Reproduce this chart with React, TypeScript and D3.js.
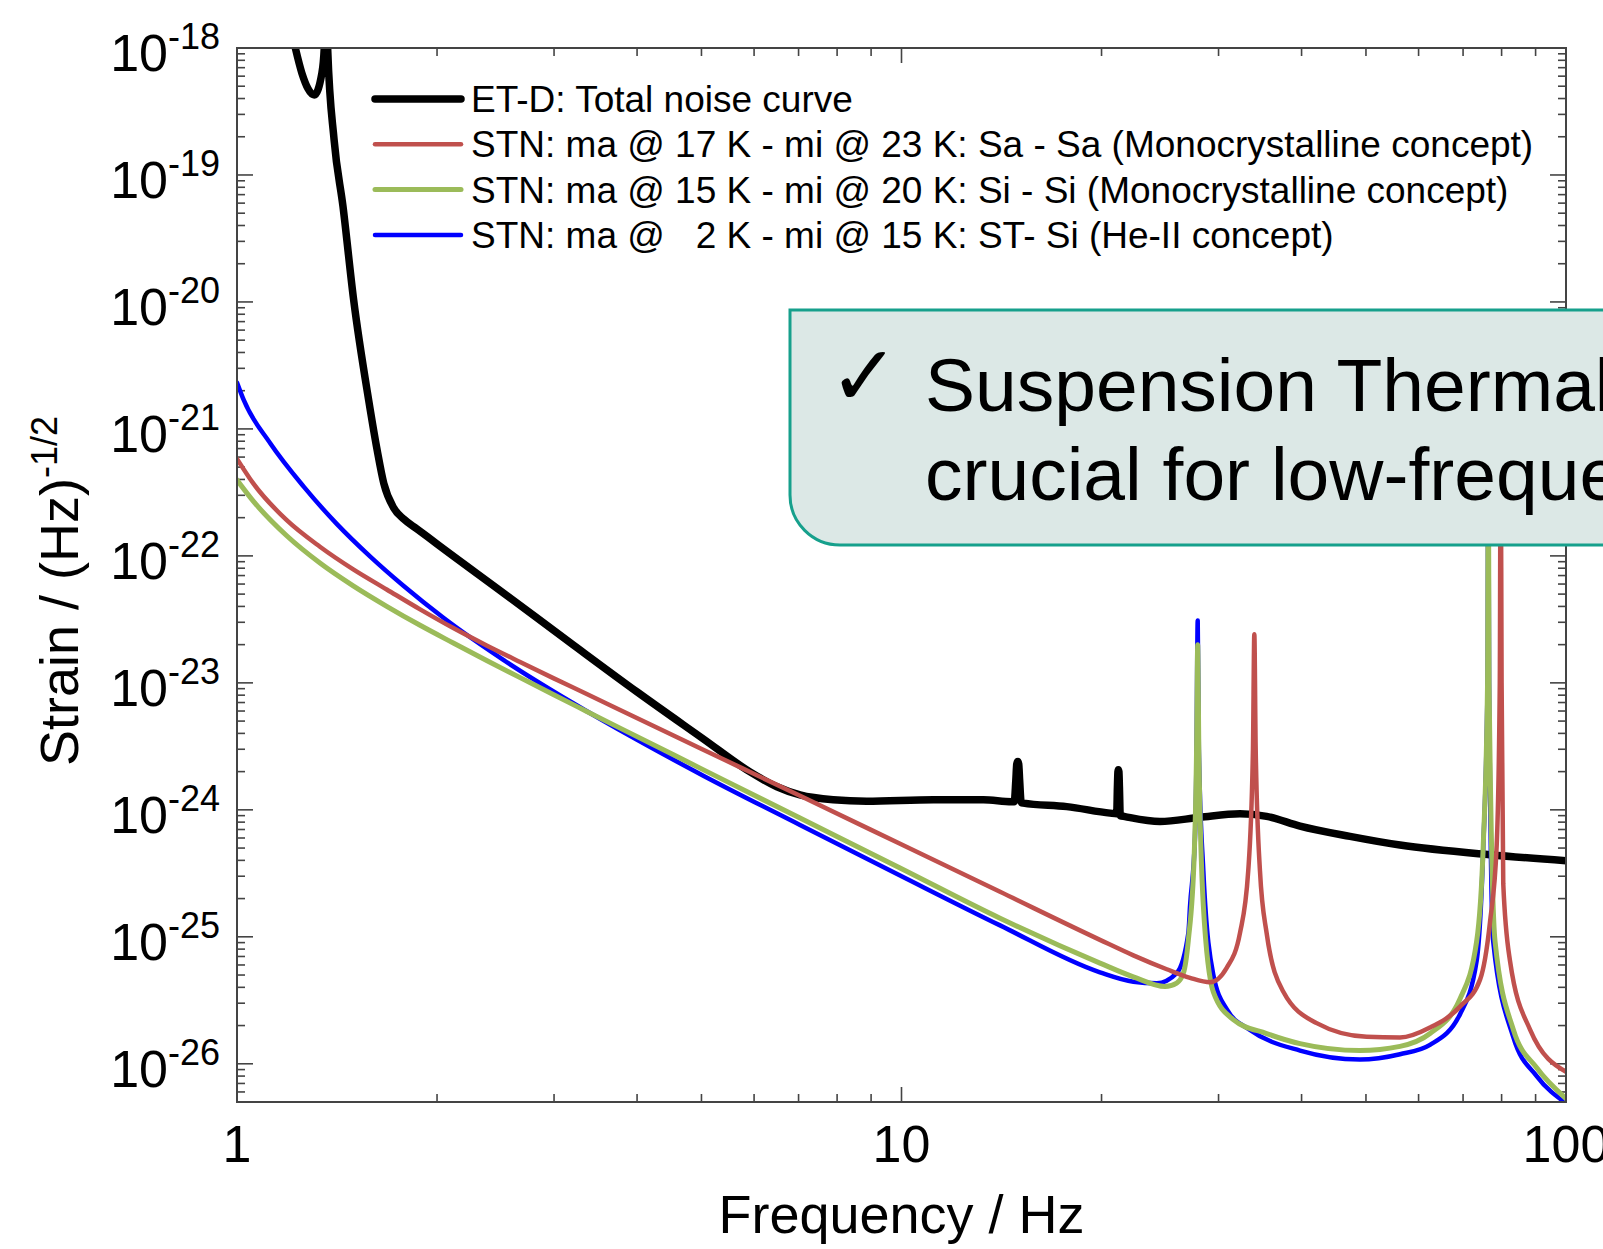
import React from "react";
import * as d3 from "d3";

// ET-D total noise curve, [frequency Hz, strain]
const etdTotal: [number, number][] = [
  [1.19, 2.0e-18], [1.224, 1.0e-18], [1.252, 6.35e-19], [1.307, 4.27e-19], [1.342, 6.35e-19],
  [1.353, 1.0e-18], [1.36, 3.0e-18], [1.369, 1.0e-18], [1.4, 1.89e-19], [1.444, 5.62e-20],
  [1.498, 1.04e-20], [1.578, 1.69e-21], [1.625, 6.84e-22], [1.663, 3.73e-22], [1.721, 2.39e-22],
  [1.782, 1.95e-22], [1.866, 1.63e-22], [2.0, 1.24e-22], [2.52, 5.08e-23], [3.174, 2.07e-23],
  [4.0, 8.49e-24], [5.04, 3.6e-24], [5.916, 1.99e-24], [6.494, 1.52e-24], [7.035, 1.31e-24],
  [7.895, 1.2e-24], [8.863, 1.17e-24], [11.17, 1.2e-24], [13.28, 1.2e-24], [14.65, 1.16e-24],
  [14.78, 1.16e-24], [14.86, 1.7e-24], [14.91, 2.3e-24], [14.96, 2.4e-24], [15.01, 2.3e-24],
  [15.06, 1.7e-24], [15.14, 1.14e-24], [15.25, 1.13e-24], [17.73, 1.06e-24], [20.6, 9.42e-25],
  [21.08, 9.3e-25], [21.13, 1.5e-24], [21.17, 2.0e-24], [21.2, 2.07e-24], [21.24, 2.0e-24],
  [21.28, 1.5e-24], [21.34, 9.0e-25], [21.69, 8.85e-25], [24.49, 8.09e-25], [28.13, 8.73e-25],
  [32.31, 9.31e-25], [35.44, 8.89e-25], [39.79, 7.45e-25], [47.31, 6.18e-25], [56.26, 5.28e-25],
  [76.85, 4.43e-25], [100, 3.98e-25],
];

// STN ma @ 17 K - mi @ 23 K, Sa - Sa
const stnSaSa: [number, number][] = [
  [1, 5.81e-22], [1.058, 3.72e-22], [1.188, 1.91e-22], [1.333, 1.18e-22], [1.496, 7.83e-23],
  [1.68, 5.44e-23], [1.886, 3.79e-23], [2.116, 2.7e-23], [2.375, 1.97e-23], [2.667, 1.46e-23],
  [2.992, 1.09e-23], [3.36, 8.18e-24], [3.771, 6.12e-24], [4.976, 3.06e-24], [7.035, 1.29e-24],
  [9.95, 5.4e-25], [14.07, 2.26e-25], [19.89, 9.46e-26], [22.33, 7.14e-26], [25.07, 5.55e-26],
  [27.18, 4.75e-26], [29.13, 4.39e-26], [30.86, 5.7e-26], [32.31, 1.07e-25], [33.25, 3.3e-25],
  [33.8, 3.0e-24], [33.96, 2.42e-23], [34.12, 3.0e-24], [34.63, 3.3e-25], [35.44, 1.07e-25],
  [37.55, 3.69e-26], [42.15, 2.09e-26], [50.12, 1.63e-26], [56.26, 1.61e-26], [62.42, 1.93e-26],
  [69.27, 2.82e-26], [74.24, 4.6e-26], [76.85, 1.31e-25], [78.65, 5.25e-25], [79.5, 1.0e-23],
  [79.74, 1.0e-21], [80.0, 1.0e-23], [80.46, 2.62e-25], [82.35, 6.5e-26], [88.29, 1.86e-26],
  [100, 8.65e-27],
];

// STN ma @ 15 K - mi @ 20 K, Si - Si
const stnSiSi: [number, number][] = [
  [1, 3.96e-22], [1.058, 2.7e-22], [1.188, 1.44e-22], [1.333, 8.79e-23], [1.496, 5.81e-23],
  [1.68, 4.01e-23], [1.886, 2.84e-23], [2.116, 2.06e-23], [2.375, 1.5e-23], [2.667, 1.1e-23],
  [2.992, 8.09e-24], [3.36, 5.96e-24], [3.771, 4.4e-24], [4.976, 2.13e-24], [7.035, 8.61e-25],
  [9.95, 3.48e-25], [14.07, 1.4e-25], [19.89, 6.21e-26], [22.33, 4.84e-26], [24.93, 4.06e-26],
  [25.95, 4.32e-26], [26.56, 5.18e-26], [27.02, 9.44e-26], [27.58, 4.52e-25], [27.8, 3.0e-24],
  [27.91, 2.0e-23], [28.02, 3.0e-24], [28.46, 1.76e-25], [29.46, 3.69e-26], [31.57, 2.23e-26],
  [35.44, 1.73e-26], [39.79, 1.44e-26], [48.97, 1.27e-26], [56.26, 1.37e-26], [62.42, 1.73e-26],
  [69.27, 3.25e-26], [73.38, 9.23e-26], [75.07, 5.25e-25], [76.2, 1.0e-23], [76.39, 1.0e-21],
  [76.6, 1.0e-23], [78.2, 9.23e-26], [83.31, 1.86e-26], [90.34, 9.29e-27], [100, 5.32e-27],
];

// STN ma @ 2 K - mi @ 15 K, ST - Si
const stnStSi: [number, number][] = [
  [1, 2.32e-21], [1.0235, 1.69e-21], [1.122, 7.71e-22], [1.26, 3.51e-22], [1.414, 1.78e-22],
  [1.587, 9.87e-23], [1.782, 5.79e-23], [2.047, 3.24e-23], [2.52, 1.51e-23], [3.174, 7.13e-24],
  [4.0, 3.56e-24], [5.04, 1.85e-24], [7.035, 7.6e-25], [9.95, 3.04e-25], [14.07, 1.23e-25],
  [19.89, 5.25e-26], [22.33, 4.43e-26], [24.21, 4.31e-26], [25.95, 5.18e-26], [27.02, 1.07e-25],
  [27.18, 1.76e-25], [27.65, 6.18e-25], [27.8, 3.0e-24], [27.91, 3.1e-23], [28.02, 3.0e-24],
  [28.46, 3.31e-25], [29.46, 5.04e-26], [30.86, 2.69e-26], [33.45, 1.85e-26], [39.79, 1.27e-26],
  [48.97, 1.08e-26], [56.26, 1.19e-26], [62.42, 1.41e-26], [69.27, 2.46e-26], [73.38, 6.5e-26],
  [75.07, 5.0e-25], [76.2, 1.0e-23], [76.39, 1.0e-21], [76.6, 1.0e-23], [77.71, 9.2e-26],
  [83.31, 1.62e-26], [90.34, 8.0e-27], [100, 4.9e-27],
];

const legendLabels = [
  "ET-D: Total noise curve",
  "STN: ma @ 17 K - mi @ 23 K: Sa - Sa (Monocrystalline concept)",
  "STN: ma @ 15 K - mi @ 20 K: Si - Si (Monocrystalline concept)",
  "STN: ma @   2 K - mi @ 15 K: ST- Si (He-II concept)",
];
const legendColors = ["#000000", "#c0504d", "#9bbb59", "#0000ff"];
const legendWidths = [7.5, 4.5, 5, 4.5];

const yExponents = [-18, -19, -20, -21, -22, -23, -24, -25, -26];
const xTickValues = [1, 10, 100];

const font = "'Liberation Sans', Arial, Helvetica, sans-serif";

export default function App() {
  const left = 237, right = 1566, top = 48, bottom = 1102;

  const x = d3.scaleLog().domain([1, 100]).range([left, right]);
  const y = d3.scaleLog().domain([5e-27, 1e-18]).range([bottom, top]);

  const line = d3
    .line<[number, number]>()
    .x((d) => x(d[0]))
    .y((d) => y(d[1]))
    .curve(d3.curveMonotoneX);

  // minor ticks
  const xMinor: number[] = [];
  for (const dec of [1, 10]) for (let k = 2; k <= 9; k++) xMinor.push(k * dec);
  const yMinor: number[] = [];
  for (let e = -27; e <= -19; e++)
    for (let k = 2; k <= 9; k++) {
      const v = k * Math.pow(10, e);
      if (v >= 5e-27 && v <= 1e-18) yMinor.push(v);
    }
  const yMajor = yExponents.map((e) => Math.pow(10, e));

  const axisColor = "#444";

  return (
    <div style={{ position: "absolute", left: 0, top: 0 }}>
      <svg width={1603} height={1249} style={{ display: "block", background: "#fff" }}>
        <defs>
          <clipPath id="plot-clip">
            <rect x={left} y={top} width={right - left} height={bottom - top} />
          </clipPath>
        </defs>

        {/* ticks */}
        <g stroke={axisColor} strokeWidth={1.6}>
          {xTickValues.map((v) => (
            <g key={"xM" + v}>
              <line x1={x(v)} x2={x(v)} y1={bottom} y2={bottom - 15} />
              <line x1={x(v)} x2={x(v)} y1={top} y2={top + 15} />
            </g>
          ))}
          {xMinor.map((v) => (
            <g key={"xm" + v}>
              <line x1={x(v)} x2={x(v)} y1={bottom} y2={bottom - 8} />
              <line x1={x(v)} x2={x(v)} y1={top} y2={top + 8} />
            </g>
          ))}
          {yMajor.map((v, i) => (
            <g key={"yM" + i}>
              <line x1={left} x2={left + 16} y1={y(v)} y2={y(v)} />
              <line x1={right} x2={right - 16} y1={y(v)} y2={y(v)} />
            </g>
          ))}
          {yMinor.map((v, i) => (
            <g key={"ym" + i}>
              <line x1={left} x2={left + 8} y1={y(v)} y2={y(v)} />
              <line x1={right} x2={right - 8} y1={y(v)} y2={y(v)} />
            </g>
          ))}
        </g>

        {/* curves */}
        <g clipPath="url(#plot-clip)" fill="none" strokeLinejoin="round" strokeLinecap="round">
          <path d={line(etdTotal) || ""} stroke={legendColors[0]} strokeWidth={legendWidths[0]} />
          <path d={line(stnStSi) || ""} stroke={legendColors[3]} strokeWidth={legendWidths[3]} />
          <path d={line(stnSiSi) || ""} stroke={legendColors[2]} strokeWidth={legendWidths[2]} />
          <path d={line(stnSaSa) || ""} stroke={legendColors[1]} strokeWidth={legendWidths[1]} />
        </g>

        {/* frame */}
        <rect x={left} y={top} width={right - left} height={bottom - top} fill="none" stroke={axisColor} strokeWidth={2} />

        {/* tick labels and titles */}
        <g fontFamily={font} fill="#000">
          {yExponents.map((e) => (
            <text key={"yl" + e} x={220} y={y(Math.pow(10, e)) + 23} textAnchor="end">
              <tspan fontSize={52}>10</tspan>
              <tspan fontSize={36} dy={-22}>{String(e)}</tspan>
            </text>
          ))}
          {xTickValues.map((v) => (
            <text key={"xl" + v} x={x(v)} y={1162} fontSize={52} textAnchor="middle">
              {String(v)}
            </text>
          ))}
          <text x={x(10)} y={1233} fontSize={54} textAnchor="middle">
            Frequency / Hz
          </text>
          <text transform="translate(78,591) rotate(-90)" textAnchor="middle">
            <tspan fontSize={54}>Strain / (Hz)</tspan>
            <tspan fontSize={36} dy={-21}>-1/2</tspan>
          </text>
        </g>

        {/* legend */}
        <g fontFamily={font} fontSize={37}>
          {legendLabels.map((lab, i) => {
            const cy = 99 + i * 45.3;
            return (
              <g key={"lg" + i}>
                <line x1={375} x2={461} y1={cy} y2={cy} stroke={legendColors[i]} strokeWidth={legendWidths[i]} strokeLinecap="round" />
                <text x={471} y={cy + 13} style={{ whiteSpace: "pre" }}>
                  {lab}
                </text>
              </g>
            );
          })}
        </g>

        {/* callout */}
        <path d="M790,310 H1640 V545 H840 A50,50 0 0 1 790,495 Z" fill="#dce8e6" stroke="#16a08c" strokeWidth={3} />
        <text x={829} y={405} fontFamily="'DejaVu Serif', serif" fontSize={84}>
          ✓
        </text>
        <g fontFamily={font} fontSize={75}>
          <text x={925} y={411}>Suspension Thermal</text>
          <text x={925} y={500}>crucial for low-frequency</text>
        </g>
      </svg>
    </div>
  );
}
